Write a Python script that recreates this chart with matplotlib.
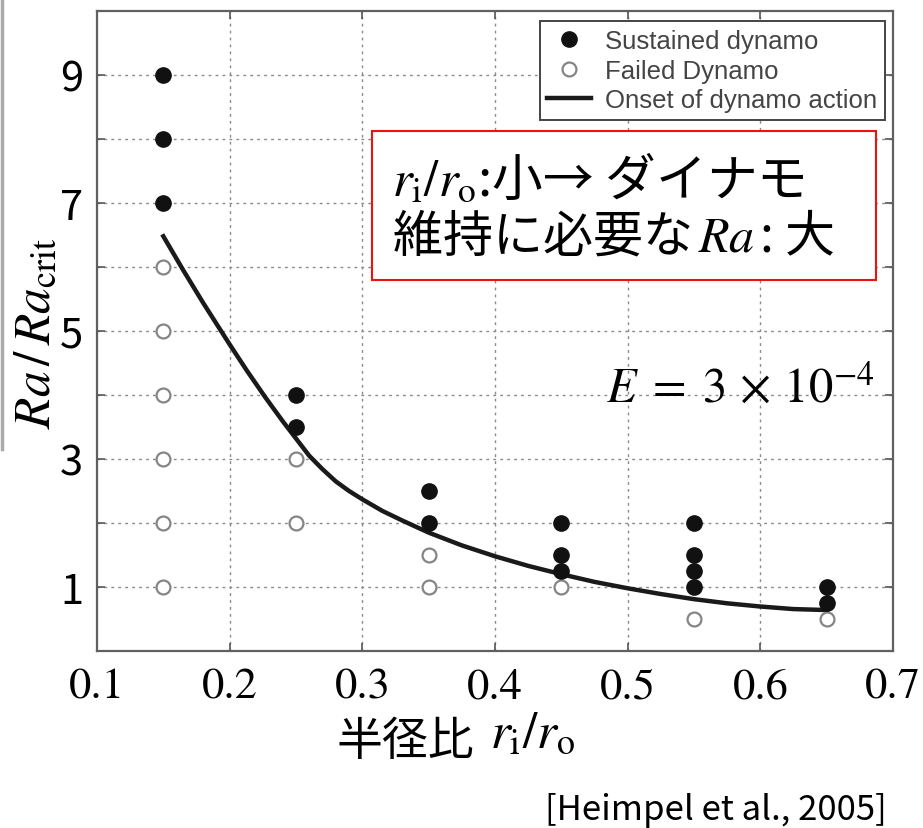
import numpy as np
import matplotlib
matplotlib.use("Agg")
import matplotlib.pyplot as plt
from matplotlib.patches import Rectangle
from matplotlib.lines import Line2D

plt.rcParams['font.family'] = ['Noto Sans CJK JP', 'DejaVu Sans']
plt.rcParams['mathtext.fontset'] = 'stix'

# Data (Heimpel et al., 2005, E = 3e-4)
sustained_x = [0.15, 0.15, 0.15, 0.25, 0.25, 0.35, 0.35,
               0.45, 0.45, 0.45, 0.55, 0.55, 0.55, 0.55, 0.65, 0.65]
sustained_y = [9, 8, 7, 4, 3.5, 2.5, 2,
               2, 1.5, 1.25, 2, 1.5, 1.25, 1, 1, 0.75]
failed_x = [0.15, 0.15, 0.15, 0.15, 0.15, 0.15, 0.25, 0.25,
            0.35, 0.35, 0.45, 0.55, 0.65]
failed_y = [6, 5, 4, 3, 2, 1, 3, 2,
            1.5, 1, 1, 0.5, 0.5]
# onset curve
onset_x = [0.15, 0.165, 0.18, 0.2, 0.213, 0.227, 0.24, 0.25, 0.26, 0.27,
           0.28, 0.29, 0.3, 0.315, 0.33, 0.35, 0.375, 0.4, 0.425, 0.45,
           0.475, 0.5, 0.525, 0.55, 0.575, 0.6, 0.625, 0.65]
onset_y = [6.48, 5.95, 5.44, 4.79, 4.38, 3.96, 3.59, 3.32, 3.05, 2.84,
           2.65, 2.5, 2.37, 2.19, 2.04, 1.85, 1.65, 1.48, 1.33, 1.2,
           1.08, 0.98, 0.89, 0.81, 0.745, 0.695, 0.655, 0.64]

xticks = [0.1, 0.2, 0.3, 0.4, 0.5, 0.6, 0.7]
xtick_labels = ['0.1', '0.2', '0.3', '0.4', '0.5', '0.6', '0.7']
yticks = [1, 2, 3, 4, 5, 6, 7, 8, 9]
ytick_labels = ['1', '', '3', '', '5', '', '7', '', '9']

W, H = 923, 829


def fx(px):
    return px / W


def fy(py):
    return 1 - py / H


fig = plt.figure(figsize=(W / 100, H / 100), dpi=100)
ax = fig.add_axes([fx(97), fy(652), (893 - 97) / W, (652 - 12) / H])

# Grid
for gx in xticks[1:-1]:
    ax.axvline(gx, color='#8a8a8a', lw=1.0, ls=(0, (2, 3)), zorder=0)
for gy in yticks:
    ax.axhline(gy, color='#8a8a8a', lw=1.0, ls=(0, (2, 3)), zorder=0)

h_onset, = ax.plot(onset_x, onset_y, color='#1a1a1a', lw=3.2, zorder=2,
                   label='Onset of dynamo action', solid_joinstyle='round')
h_fail, = ax.plot(failed_x, failed_y, ls='none', marker='o', ms=10,
                  mfc='white', mec='#858585', mew=1.6, zorder=3,
                  label='Failed Dynamo')
h_sus, = ax.plot(sustained_x, sustained_y, ls='none', marker='o', ms=11,
                 mfc='#111111', mec='#111111', zorder=4,
                 label='Sustained dynamo')

ax.set_xlim(0.1, 0.7)
ax.set_ylim(0, 10)
ax.set_xticks(xticks)
ax.set_xticklabels(xtick_labels, family='STIXGeneral', fontsize=32)
ax.set_yticks(yticks)
ax.set_yticklabels(ytick_labels, fontsize=30)
ax.tick_params(direction='in', length=6, width=1.2, color='#555555',
               top=True, right=True)
ax.tick_params(axis='x', pad=12)
ax.tick_params(axis='y', pad=10)
for sp in ax.spines.values():
    sp.set_color('#606060')
    sp.set_linewidth(1.6)

leg = ax.legend(handles=[h_sus, h_fail, h_onset], loc='upper right',
                bbox_to_anchor=(0.99, 0.984), borderaxespad=0,
                prop={'family': 'Liberation Sans', 'size': 18.5},
                labelcolor='#444444', fancybox=False, framealpha=1,
                edgecolor='#444444', handlelength=1.7, handletextpad=0.55,
                labelspacing=0.22, borderpad=0.3)
leg.get_frame().set_linewidth(1.4)

# Red annotation box
fig.add_artist(Rectangle((fx(372), fy(281)), (876 - 372) / W, (281 - 132) / H,
                         transform=fig.transFigure, facecolor='white',
                         edgecolor='#ee1111', lw=1.5, zorder=5))
fig.text(fx(392), fy(196), r'$r_\mathrm{i}/r_\mathrm{o}$:小→ ダイナモ',
         fontsize=36.5, va='baseline', ha='left', zorder=6)
fig.text(fx(392), fy(251), r'維持に必要な$\,Ra\,$: 大',
         fontsize=36, va='baseline', ha='left', zorder=6)

fig.text(fx(875), fy(403), r'$E\;=\;3\,\times\,10^{-4}$', fontsize=35,
         ha='right', va='baseline')

# Axis labels
fig.text(fx(35), fy(333), r'$Ra\,/\,Ra_\mathrm{crit}$', fontsize=37,
         rotation=90, ha='center', va='center')
fig.text(fx(337), fy(742), '半径比', fontsize=33, ha='left', va='center')
fig.text(fx(490), fy(748), r'$r_\mathrm{i}/r_\mathrm{o}$', fontsize=37,
         ha='left', va='baseline')
fig.text(fx(887), fy(811), '[Heimpel et al., 2005]', fontsize=25,
         ha='right', va='center')

# thin grey edge from the slide
fig.add_artist(Line2D([fx(2), fx(2)], [1, fy(450)], color='#aaaaaa', lw=2.5,
                      transform=fig.transFigure))

fig.savefig('out.png', dpi=100)
